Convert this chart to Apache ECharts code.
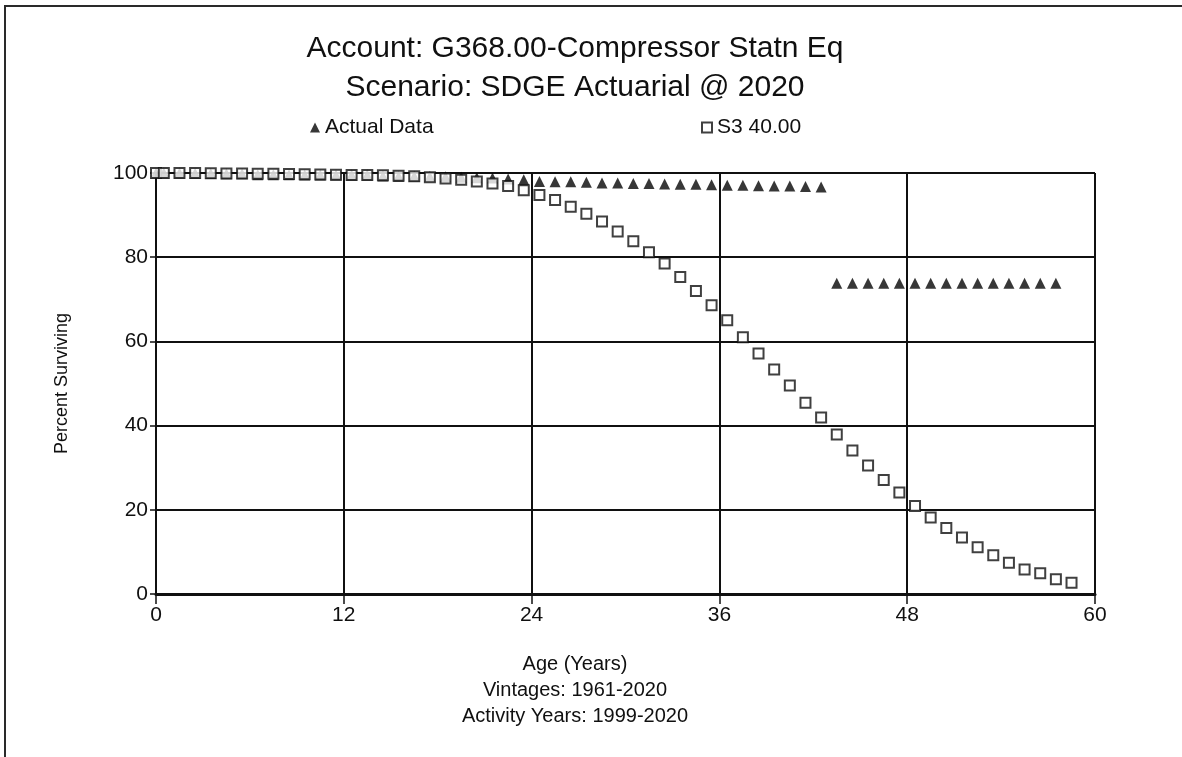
<!DOCTYPE html>
<html>
<head>
<meta charset="utf-8">
<title>Account: G368.00-Compressor Statn Eq</title>
<script src="https://cdn.jsdelivr.net/npm/echarts@6/dist/echarts.min.js"></script>
<style>
  html, body { margin: 0; padding: 0; background: #ffffff; }
  #chart { width: 1182px; height: 757px; }
</style>
</head>
<body>
<div id="chart"></div>
<script>
// Observed life table ages (years) and percent surviving
const actualAges = [0, 0.5, 1.5, 2.5, 3.5, 4.5, 5.5, 6.5, 7.5, 8.5, 9.5,
  10.5, 11.5, 12.5, 13.5, 14.5, 15.5, 16.5, 17.5, 18.5, 19.5,
  20.5, 21.5, 22.5, 23.5, 24.5, 25.5, 26.5, 27.5, 28.5, 29.5,
  30.5, 31.5, 32.5, 33.5, 34.5, 35.5, 36.5, 37.5, 38.5, 39.5,
  40.5, 41.5, 42.5, 43.5, 44.5, 45.5, 46.5, 47.5, 48.5, 49.5,
  50.5, 51.5, 52.5, 53.5, 54.5, 55.5, 56.5, 57.5];
const actualValues = [100, 100, 99.98, 99.95, 99.9, 99.85, 99.8, 99.6, 99.6, 99.6, 99.5,
  99.5, 99.5, 99.5, 99.5, 99.3, 99.25, 99.2, 99.15, 99.1, 99.0,
  98.9, 98.8, 98.6, 98.4, 98.0, 97.9, 97.9, 97.8, 97.6, 97.6,
  97.5, 97.5, 97.4, 97.3, 97.3, 97.2, 97.1, 97.1, 97.0, 96.9,
  96.9, 96.8, 96.7, 73.8, 73.8, 73.8, 73.8, 73.8, 73.8, 73.8,
  73.8, 73.8, 73.8, 73.8, 73.8, 73.8, 73.8, 73.8];

// Fitted Iowa S3 curve, 40-year average life
const s3Ages = [0, 0.5, 1.5, 2.5, 3.5, 4.5, 5.5, 6.5, 7.5, 8.5, 9.5,
  10.5, 11.5, 12.5, 13.5, 14.5, 15.5, 16.5, 17.5, 18.5, 19.5,
  20.5, 21.5, 22.5, 23.5, 24.5, 25.5, 26.5, 27.5, 28.5, 29.5,
  30.5, 31.5, 32.5, 33.5, 34.5, 35.5, 36.5, 37.5, 38.5, 39.5,
  40.5, 41.5, 42.5, 43.5, 44.5, 45.5, 46.5, 47.5, 48.5, 49.5,
  50.5, 51.5, 52.5, 53.5, 54.5, 55.5, 56.5, 57.5, 58.5];
const s3Values = [100, 100, 100, 100, 99.95, 99.9, 99.9, 99.85, 99.8, 99.75, 99.7,
  99.65, 99.6, 99.55, 99.5, 99.45, 99.35, 99.2, 99.0, 98.7, 98.4,
  98.0, 97.5, 96.9, 95.9, 94.8, 93.6, 92.0, 90.3, 88.5, 86.1,
  83.8, 81.2, 78.5, 75.3, 72.0, 68.6, 65.0, 61.0, 57.1, 53.3,
  49.5, 45.4, 41.9, 37.9, 34.1, 30.5, 27.1, 24.1, 20.9, 18.2,
  15.7, 13.4, 11.1, 9.2, 7.4, 5.8, 4.9, 3.5, 2.7];

const xTicks = { min: 0, max: 60, step: 12 };
const yTicks = { min: 0, max: 100, step: 20 };

const titleLines = ['Account: G368.00-Compressor Statn Eq', 'Scenario: SDGE Actuarial @ 2020'];
const footLines = ['Age (Years)', 'Vintages: 1961-2020', 'Activity Years: 1999-2020'];
const seriesNames = ['Actual Data', 'S3 40.00'];
const yName = 'Percent Surviving';

const INK = '#101010';
const FONT = 'Liberation Sans, Arial, sans-serif';
const CX = 575; // horizontal centre of the heading and footer text

function pairs(xs, ys) { return xs.map((x, i) => [x, ys[i]]); }

function centredText(text, top, size) {
  return {
    text: text, left: CX, top: top, textAlign: 'center', padding: 0,
    textStyle: { fontFamily: FONT, fontSize: size, fontWeight: 'normal', color: INK }
  };
}

const chart = echarts.init(document.getElementById('chart'), null, { renderer: 'canvas' });

chart.setOption({
  backgroundColor: '#ffffff',
  animation: false,
  title: [
    centredText(titleLines[0], 34, 30),
    centredText(titleLines[1], 73, 30),
    centredText(footLines[0], 654, 20),
    centredText(footLines[1], 680, 20),
    centredText(footLines[2], 706, 20)
  ],
  legend: [
    { data: [seriesNames[0]], left: 310, top: 117, itemWidth: 10, itemHeight: 10, itemGap: 6,
      padding: 0, textStyle: { fontFamily: FONT, fontSize: 21, color: INK } },
    { data: [seriesNames[1]], left: 701, top: 117, itemWidth: 10, itemHeight: 10, itemGap: 6,
      padding: 0, textStyle: { fontFamily: FONT, fontSize: 21, color: INK } }
  ],
  graphic: [
    { type: 'rect', silent: true, z: 100,
      shape: { x: 5, y: 6, width: 1300, height: 900 },
      style: { fill: null, stroke: '#2a2a2a', lineWidth: 2 } }
  ],
  grid: { left: 156, right: 87, top: 173, bottom: 163, containLabel: false },
  xAxis: {
    type: 'value', min: xTicks.min, max: xTicks.max, interval: xTicks.step,
    axisLine: { show: true, onZero: false, lineStyle: { color: INK, width: 3 } },
    axisTick: { show: true, length: 10, lineStyle: { color: INK, width: 1.5 } },
    axisLabel: { margin: 11, fontFamily: FONT, fontSize: 21, color: INK },
    splitLine: { show: true, lineStyle: { color: INK, width: 2 } }
  },
  yAxis: {
    type: 'value', min: yTicks.min, max: yTicks.max, interval: yTicks.step,
    name: yName, nameLocation: 'middle', nameGap: 85, nameRotate: 90,
    nameTextStyle: { fontFamily: FONT, fontSize: 18, color: INK },
    axisLine: { show: true, onZero: false, lineStyle: { color: INK, width: 2 } },
    axisTick: { show: true, length: 6, lineStyle: { color: INK, width: 1.5 } },
    axisLabel: { margin: 8, fontFamily: FONT, fontSize: 21, color: INK },
    splitLine: { show: true, lineStyle: { color: INK, width: 2 } }
  },
  series: [
    {
      name: seriesNames[0], type: 'scatter', symbol: 'triangle', symbolSize: [11, 11],
      itemStyle: { color: '#050505' }, z: 2,
      data: pairs(actualAges, actualValues)
    },
    {
      name: seriesNames[1], type: 'scatter', symbol: 'rect', symbolSize: 10,
      itemStyle: { color: '#ffffff', borderColor: INK, borderWidth: 2 }, z: 3,
      data: pairs(s3Ages, s3Values)
    }
  ]
});
</script>
</body>
</html>
